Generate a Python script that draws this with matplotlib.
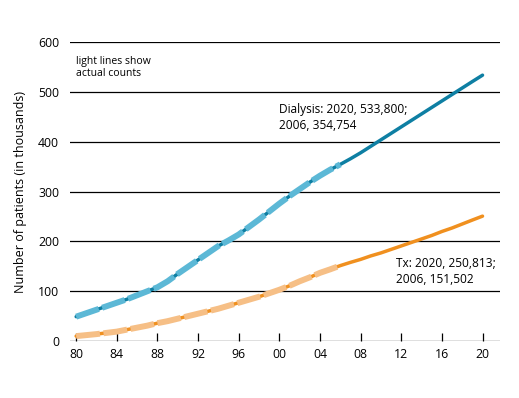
import matplotlib.pyplot as plt

# Projection (dark) lines, 1980-2020 (thousands)
years = list(range(1980, 2021))
dialysis = [49, 56, 63, 70, 77, 84, 92, 100, 108, 120,
            135, 149, 163, 177, 191, 202, 214, 229, 244, 260,
            276, 291, 305, 319, 332, 344, 354.754, 366, 378, 391,
            404, 417, 430, 443, 456, 469, 482, 495, 508, 521, 533.8]
tx = [10, 12, 14, 16.5, 19, 23, 27, 31, 36, 40,
      45, 50, 55, 60, 65, 71, 77, 83, 89, 96,
      103, 111, 120, 128, 137, 144, 151.502, 158, 164, 171,
      177, 184, 191, 198, 205, 212, 220, 227, 235, 243, 250.813]

# Actual counts (light lines), 1980-2006
actual_years = years[:27]
dialysis_actual = dialysis[:27]
tx_actual = tx[:27]

x_ticks = [1980, 1984, 1988, 1992, 1996, 2000, 2004, 2008, 2012, 2016, 2020]
x_labels = ["80", "84", "88", "92", "96", "00", "04", "08", "12", "16", "20"]
y_ticks = [0, 100, 200, 300, 400, 500, 600]

plt.rcParams['font.family'] = ['Open Sans', 'DejaVu Sans']

fig = plt.figure(figsize=(5.19, 3.98), dpi=100)
ax = fig.add_axes([0.135, 0.143, 0.828, 0.751])

dark_blue = "#0e7fa3"
light_blue = "#5cb8d6"
dark_orange = "#f0901f"
light_orange = "#f6bf86"

ax.plot(years, dialysis, color=dark_blue, lw=2.5, solid_capstyle="round",
        solid_joinstyle="round", zorder=3)
ax.plot(years, tx, color=dark_orange, lw=2.5, solid_capstyle="round",
        solid_joinstyle="round", zorder=3)
ax.plot(actual_years, dialysis_actual, color=light_blue, lw=4.3,
        dashes=(4, 0.6), dash_capstyle="butt", dash_joinstyle="round", zorder=4)
ax.plot(actual_years, tx_actual, color=light_orange, lw=4.3,
        dashes=(4, 0.6), dash_capstyle="butt", dash_joinstyle="round", zorder=4)

ax.set_xlim(1979.4, 2021.7)
ax.set_ylim(0, 600)
ax.set_yticks(y_ticks)
ax.set_xticks(x_ticks)
ax.set_xticklabels(x_labels)
ax.grid(axis="y", color="black", lw=0.9, zorder=1)
ax.set_axisbelow(True)
for side in ["top", "right", "left", "bottom"]:
    ax.spines[side].set_visible(False)
ax.tick_params(axis="y", length=0, labelsize=8.8, pad=8)
ax.tick_params(axis="x", direction="in", length=6, width=0.9, labelsize=8.8, pad=5)
ax.set_ylabel("Number of patients (in thousands)", fontsize=9, labelpad=8)

ax.text(1980, 572, "light lines show\nactual counts", fontsize=7.5,
        va="top", ha="left", linespacing=1.1)
ax.text(2000, 420, "Dialysis: 2020, 533,800;\n2006, 354,754", fontsize=8.6,
        va="bottom", ha="left", linespacing=1.3)
ax.text(2011.5, 110, "Tx: 2020, 250,813;\n2006, 151,502", fontsize=8.6,
        va="bottom", ha="left", linespacing=1.3)

fig.savefig("out.png", dpi=100)
